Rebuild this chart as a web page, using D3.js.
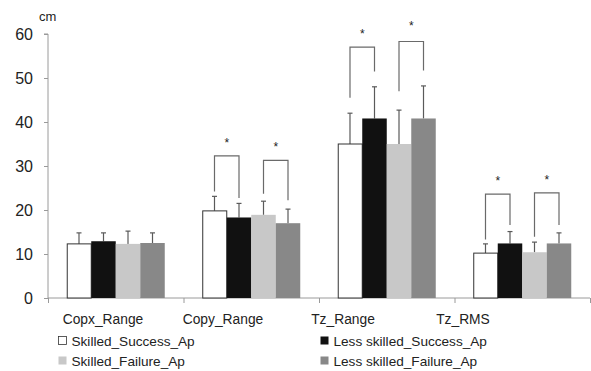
<!DOCTYPE html>
<html>
<head>
<meta charset="utf-8">
<script src="https://cdn.jsdelivr.net/npm/d3@7"></script>
<style>
  html, body { margin: 0; padding: 0; background: #fff; }
  svg { display: block; font-family: "Liberation Sans", Arial, sans-serif; }
</style>
</head>
<body>
<svg id="chart" width="591" height="371"></svg>
<script>
// ---------- data ----------
const categories = ["Copx_Range", "Copy_Range", "Tz_Range", "Tz_RMS"];
const seriesNames = ["Skilled_Success_Ap", "Less skilled_Success_Ap", "Skilled_Failure_Ap", "Less skilled_Failure_Ap"];
const seriesColors = ["#ffffff", "#111111", "#c8c8c8", "#888888"];
// means per series (order follows categories)
const skilledSuccess     = [12.3, 19.8, 35.0, 10.2];
const lessSkilledSuccess = [12.9, 18.3, 40.8, 12.4];
const skilledFailure     = [12.3, 18.9, 35.0, 10.4];
const lessSkilledFailure = [12.5, 17.0, 40.8, 12.4];
// upper error bar end (mean + SD)
const skilledSuccessErr     = [14.8, 23.1, 42.0, 12.3];
const lessSkilledSuccessErr = [14.8, 21.5, 48.0, 15.1];
const skilledFailureErr     = [15.2, 22.0, 42.7, 12.7];
const lessSkilledFailureErr = [14.8, 20.2, 48.2, 14.8];
const yTicks = [0, 10, 20, 30, 40, 50, 60];
const yUnit = "cm";
// significance brackets: category, series index pair, top, leg ends, star level
const bracketCats  = ["Copy_Range", "Copy_Range", "Tz_Range", "Tz_Range", "Tz_RMS", "Tz_RMS"];
const bracketLeft  = [0, 2, 0, 2, 0, 2];
const bracketRight = [1, 3, 1, 3, 1, 3];
const bracketTop   = [32.3, 31.3, 57.0, 58.3, 23.6, 23.9];
const bracketLeftEnd  = [24.2, 23.7, 45.5, 47.0, 13.3, 13.9];
const bracketRightEnd = [22.7, 22.2, 51.5, 51.7, 16.6, 16.6];
const starLevel    = [35.7, 34.8, 60.4, 62.3, 27.1, 27.3];

const means = [skilledSuccess, lessSkilledSuccess, skilledFailure, lessSkilledFailure];
const errs  = [skilledSuccessErr, lessSkilledSuccessErr, skilledFailureErr, lessSkilledFailureErr];

// ---------- layout ----------
const svg = d3.select("#chart");
const mLeft = 48, mRight = 590, mTop = 34, mBottom = 298;

const y = d3.scaleLinear().domain([0, 60]).range([mBottom, mTop]);
const x0 = d3.scaleBand().domain(categories).range([mLeft, mRight]).padding(0);
const x1 = d3.scaleBand().domain(d3.range(seriesNames.length))
  .range([0, x0.bandwidth()]).paddingInner(0).paddingOuter(0.765);

// y axis
const yAxis = svg.append("g").attr("transform", `translate(${mLeft},0)`)
  .call(d3.axisLeft(y).tickValues(yTicks).tickSize(4).tickPadding(11).tickFormat(d3.format("d")));
yAxis.select(".domain").attr("stroke", "#9a9a9a").attr("d", `M-4,${mTop}H0V${mBottom}`);
yAxis.selectAll(".tick line").attr("stroke", "#9a9a9a");
yAxis.selectAll(".tick text").attr("font-size", 16).attr("fill", "#222")
  .attr("font-family", "Liberation Sans, Arial, sans-serif");

svg.append("text").attr("x", 39).attr("y", 21).attr("font-size", 13).attr("fill", "#222").text(yUnit);

// x axis (category boundary ticks)
const xb = d3.scaleLinear().domain([0, categories.length]).range([mLeft, mRight]);
const xAxis = svg.append("g").attr("transform", `translate(0,${mBottom})`)
  .call(d3.axisBottom(xb).tickValues(d3.range(categories.length + 1)).tickSize(5).tickFormat(""));
xAxis.select(".domain").attr("stroke", "#9a9a9a").attr("d", `M${mLeft},0H${mRight}`);
xAxis.selectAll(".tick line").attr("stroke", "#9a9a9a");

// category labels (placed as in the original, shifted left)
const xl = d3.scalePoint().domain(categories).range([103, 463]);
svg.append("g").selectAll("text").data(categories).join("text")
  .attr("x", d => xl(d)).attr("y", 324).attr("text-anchor", "middle")
  .attr("font-size", 13.8).attr("fill", "#222").text(d => d);

// bars
const barData = [];
categories.forEach((c, ci) => {
  seriesNames.forEach((s, si) => {
    barData.push({ c, si, v: means[si][ci], e: errs[si][ci] });
  });
});

const g = svg.append("g");
g.selectAll("line.err").data(barData).join("line").attr("class", "err")
  .attr("x1", d => x0(d.c) + x1(d.si) + x1.bandwidth() / 2)
  .attr("x2", d => x0(d.c) + x1(d.si) + x1.bandwidth() / 2)
  .attr("y1", d => y(d.v)).attr("y2", d => y(d.e))
  .attr("stroke", "#5a5a5a").attr("stroke-width", 1.2);
g.selectAll("line.cap").data(barData).join("line").attr("class", "cap")
  .attr("x1", d => x0(d.c) + x1(d.si) + x1.bandwidth() / 2 - 2.5)
  .attr("x2", d => x0(d.c) + x1(d.si) + x1.bandwidth() / 2 + 2.5)
  .attr("y1", d => y(d.e)).attr("y2", d => y(d.e))
  .attr("stroke", "#5a5a5a").attr("stroke-width", 1.2);

g.selectAll("rect.bar").data(barData).join("rect").attr("class", "bar")
  .attr("x", d => x0(d.c) + x1(d.si) + (d.si === 0 ? 0.5 : 0))
  .attr("y", d => y(d.v))
  .attr("width", d => x1.bandwidth() - (d.si === 0 ? 0.5 : 0))
  .attr("height", d => y(0) - y(d.v))
  .attr("fill", d => seriesColors[d.si])
  .attr("stroke", d => d.si === 0 ? "#333" : "none")
  .attr("stroke-width", 1);

// brackets
const brackets = bracketCats.map((c, i) => ({
  c, a: bracketLeft[i], b: bracketRight[i], top: bracketTop[i],
  le: bracketLeftEnd[i], re: bracketRightEnd[i], star: starLevel[i]
}));
const cx = (c, si) => x0(c) + x1(si) + x1.bandwidth() / 2;
svg.append("g").selectAll("path").data(brackets).join("path")
  .attr("d", d => `M${cx(d.c, d.a)},${y(d.le)}V${y(d.top)}H${cx(d.c, d.b)}V${y(d.re)}`)
  .attr("fill", "none").attr("stroke", "#6a6a6a").attr("stroke-width", 1.2);
svg.append("g").selectAll("text").data(brackets).join("text")
  .attr("x", d => (cx(d.c, d.a) + cx(d.c, d.b)) / 2)
  .attr("y", d => y(d.star) + 6)
  .attr("text-anchor", "middle").attr("font-size", 12).attr("fill", "#222").text("*");

// legend
const legendX = [58, 320];
const legendY = [340.5, 360.5];
const leg = svg.append("g").selectAll("g").data(seriesNames).join("g")
  .attr("transform", (d, i) => `translate(${legendX[i % 2]},${legendY[Math.floor(i / 2)]})`);
leg.append("rect").attr("x", 0.5).attr("y", -4).attr("width", 8).attr("height", 8)
  .attr("fill", (d, i) => seriesColors[i])
  .attr("stroke", (d, i) => i === 0 ? "#333" : "none").attr("stroke-width", 0.8);
leg.append("text").attr("x", 13.5).attr("y", 5).attr("font-size", 13.6).attr("fill", "#222").text(d => d);
</script>
</body>
</html>
